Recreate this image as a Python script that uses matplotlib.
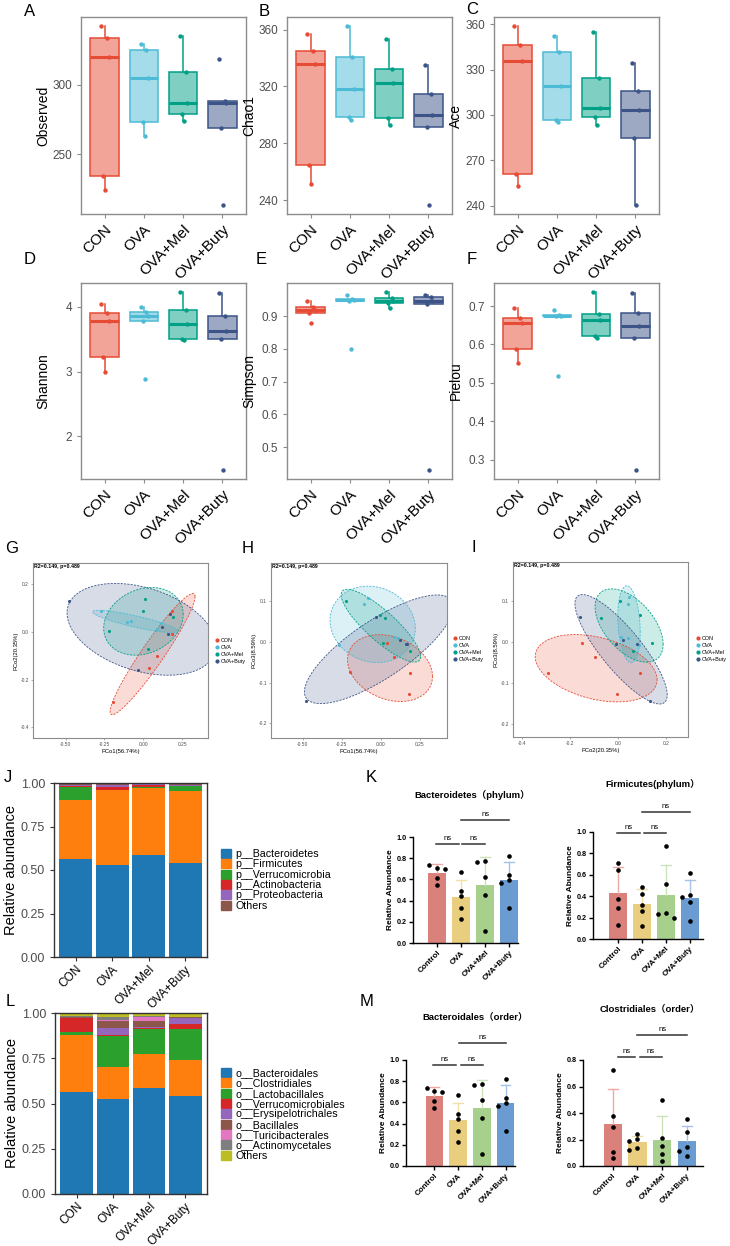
import numpy as np
import matplotlib
matplotlib.use("Agg")
import matplotlib.pyplot as plt
from matplotlib.colors import to_rgba
from matplotlib.patches import Patch
from matplotlib.lines import Line2D

plt.rcParams['font.family'] = ['Liberation Sans', 'Noto Sans CJK SC', 'DejaVu Sans']

# ---------------- data ----------------
groups = ['CON', 'OVA', 'OVA+Mel', 'OVA+Buty']
groups_bar = ['Control', 'OVA', 'OVA+Mel', 'OVA+Buty']

# alpha diversity (5 mice per group)
observed = [[342.0, 333.3, 319.5, 234.2, 224.2],
            [329.0, 324.6, 304.5, 272.8, 263.4],
            [335.0, 309.3, 286.8, 279.0, 274.2],
            [318.2, 288.4, 287.0, 268.9, 213.6]]
chao1 = [[356.7, 344.7, 336.0, 264.4, 251.1],
         [362.4, 340.5, 317.8, 298.5, 296.5],
         [353.4, 332.3, 322.1, 297.4, 293.0],
         [334.8, 314.4, 300.1, 291.1, 236.5]]
ace = [[358.9, 346.6, 336.0, 261.0, 253.2],
       [352.1, 341.5, 319.3, 296.5, 295.6],
       [354.9, 324.5, 304.9, 298.5, 293.4],
       [334.4, 316.1, 303.2, 284.9, 240.4]]
shannon = [[4.05, 3.90, 3.78, 3.23, 2.99],
           [4.00, 3.92, 3.86, 3.79, 2.88],
           [4.23, 3.95, 3.74, 3.50, 3.49],
           [4.21, 3.86, 3.63, 3.50, 1.48]]
simpson = [[0.945, 0.928, 0.918, 0.909, 0.878],
           [0.963, 0.952, 0.949, 0.947, 0.801],
           [0.974, 0.956, 0.947, 0.939, 0.925],
           [0.965, 0.957, 0.947, 0.937, 0.430]]
pielou = [[0.694, 0.669, 0.655, 0.589, 0.551],
          [0.690, 0.676, 0.675, 0.674, 0.517],
          [0.737, 0.679, 0.665, 0.621, 0.618],
          [0.733, 0.682, 0.648, 0.617, 0.273]]

# PCoA coordinates (same sample order in each axis)
pco1 = [[0.186, 0.183, 0.086, 0.039, -0.195],
        [-0.270, -0.107, -0.080, 0.088, 0.112],
        [-0.220, -0.004, 0.028, 0.012, 0.189],
        [-0.478, -0.032, 0.121, 0.160, 0.172]]
pco2 = [[0.088, -0.007, -0.099, -0.151, -0.294],
        [0.086, 0.040, 0.044, 0.012, 0.039],
        [0.005, 0.088, -0.071, 0.140, 0.061],
        [0.130, -0.160, 0.020, -0.010, 0.076]]
pco3 = [[-0.077, -0.128, -0.038, -0.003, -0.075],
        [-0.007, 0.093, 0.109, 0.012, 0.009],
        [0.101, 0.066, 0.058, -0.003, -0.022],
        [-0.145, 0.061, 0.005, -0.005, -0.006]]
pcoa_stat = 'R2=0.149, p=0.489'

# phylum composition (CON, OVA, OVA+Mel, OVA+Buty)
phylum_names = ['p__Bacteroidetes', 'p__Firmicutes', 'p__Verrucomicrobia',
                'p__Actinobacteria', 'p__Proteobacteria', 'Others']
p_bacteroidetes = [0.565, 0.527, 0.588, 0.542]
p_firmicutes = [0.335, 0.431, 0.385, 0.410]
p_verrucomicrobia = [0.077, 0.003, 0.002, 0.029]
p_actinobacteria = [0.004, 0.018, 0.011, 0.004]
p_proteobacteria = [0.006, 0.011, 0.006, 0.003]
p_others = [0.013, 0.010, 0.008, 0.012]

# order composition
order_names = ['o__Bacteroidales', 'o__Clostridiales', 'o__Lactobacillales',
               'o__Verrucomicrobiales', 'o__Erysipelotrichales', 'o__Bacillales',
               'o__Turicibacterales', 'o__Actinomycetales', 'Others']
o_bacteroidales = [0.566, 0.527, 0.588, 0.542]
o_clostridiales = [0.310, 0.176, 0.188, 0.197]
o_lactobacillales = [0.017, 0.168, 0.135, 0.174]
o_verrucomicrobiales = [0.079, 0.009, 0.004, 0.028]
o_erysipelotrichales = [0.003, 0.037, 0.006, 0.033]
o_bacillales = [0.002, 0.037, 0.035, 0.002]
o_turicibacterales = [0.002, 0.009, 0.022, 0.002]
o_actinomycetales = [0.002, 0.013, 0.004, 0.002]
o_others = [0.019, 0.024, 0.018, 0.020]

# relative abundance of single taxa (individual mice)
bacteroidetes_pts = [[0.71, 0.74, 0.70, 0.61, 0.55],
                     [0.666, 0.49, 0.44, 0.33, 0.23],
                     [0.77, 0.76, 0.62, 0.45, 0.115],
                     [0.825, 0.64, 0.59, 0.57, 0.33]]
firmicutes_pts = [[0.713, 0.648, 0.377, 0.293, 0.131],
                  [0.49, 0.42, 0.32, 0.26, 0.125],
                  [0.87, 0.51, 0.24, 0.23, 0.20],
                  [0.617, 0.41, 0.39, 0.35, 0.165]]
bacteroidales_pts = [[0.71, 0.74, 0.70, 0.61, 0.55],
                     [0.666, 0.49, 0.44, 0.33, 0.23],
                     [0.77, 0.76, 0.62, 0.45, 0.115],
                     [0.825, 0.64, 0.59, 0.57, 0.33]]
clostridiales_pts = [[0.725, 0.381, 0.295, 0.106, 0.063],
                     [0.24, 0.204, 0.187, 0.139, 0.119],
                     [0.50, 0.21, 0.15, 0.09, 0.04],
                     [0.356, 0.258, 0.14, 0.116, 0.073]]

# ---------------- style ----------------
box_colors = ['#E64B35', '#4DBBD5', '#00A087', '#3C5488']
bar_colors = ['#D9817A', '#E9CE80', '#A8D08D', '#6A9BD1']
err_colors = ['#EBAAA4', '#F2DFA8', '#CBE4BA', '#A6C3E7']
tab = ['#1F77B4', '#FF7F0E', '#2CA02C', '#D62728', '#9467BD',
       '#8C564B', '#E377C2', '#7F7F7F', '#BCBD22']
frame_gray = '#8C8C8C'
tick_gray = '#4D4D4D'
jitter = [-0.08, 0.06, 0.10, -0.03, 0.02]

W, H = 730, 1246
fig = plt.figure(figsize=(W / 100, H / 100), dpi=100)


def add_ax(x0, y0, x1, y1):
    return fig.add_axes([x0 / W, 1 - y1 / H, (x1 - x0) / W, (y1 - y0) / H])


def label(x, y, s):
    fig.text(x / W, 1 - y / H, s, fontsize=12, ha='center', va='center')


def boxplot_panel(ax, data, ylabel, ylim, yticks):
    for i, vals in enumerate(data):
        c = box_colors[i]
        ax.boxplot([vals], positions=[i + 1], widths=0.72, patch_artist=True,
                   showfliers=False, showcaps=False, whis=1.5,
                   boxprops=dict(facecolor=to_rgba(c, 0.5), edgecolor=c, linewidth=1.1),
                   medianprops=dict(color=c, linewidth=2.2),
                   whiskerprops=dict(color=c, linewidth=1.1))
        ax.scatter(i + 1 + np.array(jitter), vals, s=10, color=c, zorder=3, linewidths=0)
    ax.set_xlim(0.4, 4.6)
    ax.set_ylim(*ylim)
    ax.set_yticks(yticks)
    ax.set_xticks(range(1, 5))
    ax.set_xticklabels(groups, rotation=45, ha='right', rotation_mode='anchor', fontsize=11)
    ax.tick_params(axis='y', labelsize=8.5, labelcolor=tick_gray, color=frame_gray, length=3, width=0.8)
    ax.tick_params(axis='x', color=frame_gray, length=3, width=0.8, pad=3)
    ax.set_ylabel(ylabel, fontsize=10)
    ax.yaxis.set_label_coords(-31 / 165, 0.5)
    for s in ax.spines.values():
        s.set_color(frame_gray)
        s.set_linewidth(1.0)


def pcoa_panel(ax, xs, ys, xlim, ylim, xticks, xtl, yticks, ytl, xlabel, ylabel, leg_xy):
    t = np.linspace(0, 2 * np.pi, 80)
    circle = np.column_stack([np.cos(t), np.sin(t)])
    radius = np.sqrt(2 * 1.536)  # level 0.68
    for i in range(4):
        pts = np.column_stack([xs[i], ys[i]])
        c = box_colors[i]
        center = pts.mean(axis=0)
        cov = np.cov(pts.T)
        ell = center + radius * circle @ np.linalg.cholesky(cov).T
        ax.fill(ell[:, 0], ell[:, 1], color=to_rgba(c, 0.2), lw=0)
        ax.plot(ell[:, 0], ell[:, 1], color=c, lw=0.6, ls=(0, (2.5, 1.5)))
    for i in range(4):
        ax.scatter(xs[i], ys[i], s=5, color=box_colors[i], zorder=3, linewidths=0)
    ax.set_xlim(*xlim)
    ax.set_ylim(*ylim)
    ax.set_xticks(xticks)
    ax.set_xticklabels(xtl)
    ax.set_yticks(yticks)
    ax.set_yticklabels(ytl)
    ax.tick_params(labelsize=3.5, labelcolor=tick_gray, color=frame_gray, length=1.5, width=0.5, pad=1.5)
    ax.set_xlabel(xlabel, fontsize=4.2, labelpad=1)
    ax.set_ylabel(ylabel, fontsize=4.2, labelpad=1)
    for s in ax.spines.values():
        s.set_color(frame_gray)
        s.set_linewidth(0.8)
    ax.text(0.004, 0.997, pcoa_stat, transform=ax.transAxes, fontsize=3.8,
            fontweight='bold', ha='left', va='top')
    handles = [Line2D([], [], ls='', marker='o', ms=2, color=c, label=g)
               for c, g in zip(box_colors, groups)]
    fig.legend(handles=handles, loc='upper left', bbox_to_anchor=(leg_xy[0] / W, 1 - leg_xy[1] / H),
               frameon=False, fontsize=3.9, labelspacing=0.35, handletextpad=0.2,
               handlelength=0.8, borderpad=0, borderaxespad=0)


def stacked_panel(ax, layers, names, leg_xy):
    bottom = np.zeros(4)
    for k, vals in enumerate(layers):
        ax.bar(range(4), vals, bottom=bottom, width=0.9, color=tab[k], label=names[k], lw=0)
        bottom += np.array(vals)
    ax.set_xlim(-0.6, 3.6)
    ax.set_ylim(0, 1)
    ax.set_yticks([0, 0.25, 0.5, 0.75, 1.0])
    ax.set_yticklabels(['0.00', '0.25', '0.50', '0.75', '1.00'])
    ax.set_xticks(range(4))
    ax.set_xticklabels(groups, rotation=45, ha='right', rotation_mode='anchor', fontsize=8.6)
    ax.tick_params(axis='y', labelsize=9, labelcolor=tick_gray, color='#333333', length=3)
    ax.tick_params(axis='x', color='#333333', length=3, pad=1.5)
    ax.set_ylabel('Relative abundance', fontsize=10.5)
    ax.yaxis.set_label_coords(-36 / 153, 0.5)
    for s in ax.spines.values():
        s.set_color('#333333')
        s.set_linewidth(1.0)
    handles = [Patch(color=tab[k], label=names[k]) for k in range(len(names))]
    fig.legend(handles=handles, loc='upper left', bbox_to_anchor=(leg_xy[0] / W, 1 - leg_xy[1] / H),
               frameon=False, fontsize=7.7, labelspacing=0.02, handletextpad=0.45,
               handlelength=0.9, handleheight=0.9, borderpad=0, borderaxespad=0)


def spread(vals, gap):
    placed, offs = [], []
    for v in vals:
        for o in [0, -0.33, 0.33, -0.5, 0.5]:
            if all(abs(v - pv) > gap or o != po for pv, po in placed):
                break
        placed.append((v, o))
        offs.append(o)
    return np.array(offs)


def abundance_panel(ax, pts, xlim, ymax, brackets):
    xs = np.arange(4)
    means = [np.mean(p) for p in pts]
    sds = [np.std(p, ddof=1) for p in pts]
    ax.bar(xs, means, width=0.74, color=bar_colors, zorder=1)
    for i in range(4):
        top = means[i] + sds[i]
        ax.plot([i, i], [means[i], top], color=err_colors[i], lw=1, zorder=1)
        ax.plot([i - 0.2, i + 0.2], [top, top], color=err_colors[i], lw=1, zorder=1)
        ax.scatter(i + spread(pts[i], ymax * 0.045), pts[i], s=11, color='black', zorder=3, linewidths=0)
    ax.set_xlim(*xlim)
    ax.set_ylim(0, ymax)
    yt = np.arange(0, ymax + 1e-9, 0.2)
    ax.set_yticks(yt)
    ax.set_yticklabels([f'{v:.1f}' for v in yt], fontsize=5.2, fontweight='bold')
    ax.set_xticks(xs)
    ax.set_xticklabels(groups_bar, rotation=45, ha='right', rotation_mode='anchor',
                       fontsize=5.8, fontweight='bold')
    ax.tick_params(length=3, width=1, pad=1.5)
    ax.spines[['top', 'right']].set_visible(False)
    ax.spines[['left', 'bottom']].set_linewidth(1.0)
    ax.set_ylabel('Relative Abundance', fontsize=6, fontweight='bold', labelpad=2)
    for x1, x2, y in brackets:
        ax.plot([x1, x2], [y, y], color='#333333', lw=1.1, clip_on=False)
        ax.text((x1 + x2) / 2, y + ymax * 0.02, 'ns', ha='center', va='bottom', fontsize=5.5)


# ---------------- alpha diversity ----------------
ax = add_ax(81, 17, 246, 214)
boxplot_panel(ax, observed, 'Observed', (207.2, 348.4), [250, 300])
ax = add_ax(287, 17, 452, 214)
boxplot_panel(ax, chao1, 'Chao1', (230.2, 368.8), [240, 280, 320, 360])
ax = add_ax(494, 17, 659, 214)
boxplot_panel(ax, ace, 'Ace', (234.5, 364.8), [240, 270, 300, 330, 360])
ax = add_ax(81, 283, 246, 479)
boxplot_panel(ax, shannon, 'Shannon', (1.34, 4.37), [2, 3, 4])
ax = add_ax(287, 283, 452, 479)
boxplot_panel(ax, simpson, 'Simpson', (0.403, 1.001), [0.5, 0.6, 0.7, 0.8, 0.9])
ax = add_ax(494, 283, 659, 479)
boxplot_panel(ax, pielou, 'Pielou', (0.25, 0.76), [0.3, 0.4, 0.5, 0.6, 0.7])

# ---------------- PCoA ----------------
ax = add_ax(33, 563, 208, 738)
pcoa_panel(ax, pco1, pco2, (-0.709, 0.416), (-0.444, 0.289),
           [-0.5, -0.25, 0, 0.25], ['-0.50', '-0.25', '0.00', '0.25'],
           [-0.4, -0.2, 0, 0.2], ['-0.4', '-0.2', '0.0', '0.2'],
           'PCo1(56.74%)', 'PCo2(20.35%)', (215, 638))
ax = add_ax(271, 563, 447, 738)
pcoa_panel(ax, pco1, pco3, (-0.705, 0.426), (-0.236, 0.194),
           [-0.5, -0.25, 0, 0.25], ['-0.50', '-0.25', '0.00', '0.25'],
           [-0.2, -0.1, 0, 0.1], ['-0.2', '-0.1', '0.0', '0.1'],
           'PCo1(56.74%)', 'PCo3(8.59%)', (453, 636))
ax = add_ax(513, 562, 688, 737)
pcoa_panel(ax, pco2, pco3, (-0.439, 0.290), (-0.232, 0.195),
           [-0.4, -0.2, 0, 0.2], ['-0.4', '-0.2', '0.0', '0.2'],
           [-0.2, -0.1, 0, 0.1], ['-0.2', '-0.1', '0.0', '0.1'],
           'PCo2(20.35%)', 'PCo3(8.59%)', (696, 636))

# ---------------- composition ----------------
ax = add_ax(54, 783, 207, 957)
stacked_panel(ax, [p_bacteroidetes, p_firmicutes, p_verrucomicrobia,
                   p_actinobacteria, p_proteobacteria, p_others],
              phylum_names, (221, 849))
ax = add_ax(55, 1013, 207, 1194)
stacked_panel(ax, [o_bacteroidales, o_clostridiales, o_lactobacillales,
                   o_verrucomicrobiales, o_erysipelotrichales, o_bacillales,
                   o_turicibacterales, o_actinomycetales, o_others],
              order_names, (221, 1068))

# ---------------- single taxa ----------------
ax = add_ax(413, 837, 518, 943)
abundance_panel(ax, bacteroidetes_pts, (-1.0, 3.37), 1.0,
                [(-0.05, 0.92, 0.935), (1.04, 2.0, 0.935), (1.0, 3.0, 1.16)])
ax = add_ax(593, 832, 703, 939)
abundance_panel(ax, firmicutes_pts, (-1.04, 3.55), 1.0,
                [(-0.05, 0.92, 0.99), (1.08, 2.0, 0.99), (1.0, 3.0, 1.19)])
ax = add_ax(406, 1060, 515, 1166)
abundance_panel(ax, bacteroidales_pts, (-1.2, 3.4), 1.0,
                [(-0.05, 0.92, 0.953), (1.1, 2.05, 0.953), (1.05, 3.0, 1.16)])
ax = add_ax(583, 1060, 703, 1166)
abundance_panel(ax, clostridiales_pts, (-1.2, 3.65), 0.8,
                [(0.2, 0.9, 0.823), (1.1, 2.0, 0.823), (1.0, 3.0, 0.99)])

fig.text(472 / W, 1 - 795 / H, 'Bacteroidetes（phylum）', fontsize=6.8, fontweight='bold', ha='center', va='center')
fig.text(653 / W, 1 - 784 / H, 'Firmicutes(phylum）', fontsize=6.8, fontweight='bold', ha='center', va='center')
fig.text(475 / W, 1 - 1018 / H, 'Bacteroidales（order）', fontsize=6.8, fontweight='bold', ha='center', va='center')
fig.text(650 / W, 1 - 1010 / H, 'Clostridiales（order）', fontsize=6.8, fontweight='bold', ha='center', va='center')

# panel letters
for s, x, y in [('A', 30, 11), ('B', 264, 11), ('C', 472, 9), ('D', 30, 260), ('E', 261, 260),
                ('F', 472, 260), ('G', 12, 548), ('H', 248, 548), ('I', 474, 547),
                ('J', 8, 778), ('K', 371, 778), ('L', 10, 1002), ('M', 367, 1002)]:
    label(x, y, s)

fig.savefig('out.png', dpi=100)
